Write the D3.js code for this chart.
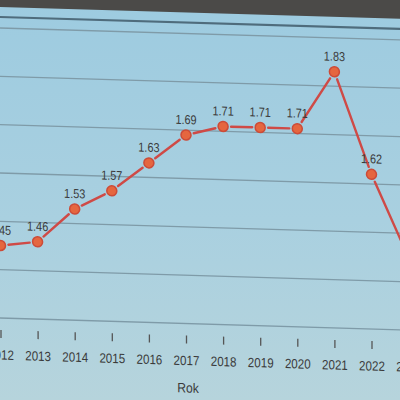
<!DOCTYPE html>
<html><head><meta charset="utf-8">
<script src="https://cdn.jsdelivr.net/npm/d3@7"></script>
<style>html,body{margin:0;padding:0;background:#a9d0e0;}svg{display:block;}</style>
</head><body>
<svg id="c" width="400" height="400"></svg>
<script>
const years = [2012,2013,2014,2015,2016,2017,2018,2019,2020,2021,2022,2023];
const values = [1.45,1.46,1.53,1.57,1.63,1.69,1.71,1.71,1.71,1.83,1.62,1.45];
const valueLabels = ["1.45","1.46","1.53","1.57","1.63","1.69","1.71","1.71","1.71","1.83","1.62","1.45"];
const gridValues = [1.3,1.4,1.5,1.6,1.7,1.8,1.9];
const xTitle = "Rok";

const FONT = "'Liberation Sans', Arial, sans-serif";
const svg = d3.select("#c");
const defs = svg.append("defs");
const grad = defs.append("linearGradient").attr("id","bg").attr("x1",0).attr("y1",0).attr("x2",0).attr("y2",1);
grad.append("stop").attr("offset","0%").attr("stop-color","#9dcbe0");
grad.append("stop").attr("offset","55%").attr("stop-color","#a9d0e0");
grad.append("stop").attr("offset","100%").attr("stop-color","#b6d4dc");
svg.append("rect").attr("width",400).attr("height",400).attr("fill","url(#bg)");

const g = svg.append("g").attr("transform","skewY(1.7)");

const x = d3.scaleLinear().domain([2012,2022]).range([0.5,371.5]);
const y = d3.scaleLinear().domain([1.3,1.9]).range([318,28]);

// screen bezel strip
g.append("rect").attr("x",-20).attr("y",-60).attr("width",460).attr("height",67).attr("fill","#4b4a48");
// top frame line
g.append("line").attr("x1",-20).attr("x2",440).attr("y1",17).attr("y2",17)
  .attr("stroke","#4f6c7c").attr("stroke-width",2.2);

// gridlines
g.append("g").selectAll("line").data(gridValues).join("line")
  .attr("x1",-20).attr("x2",440).attr("y1",d=>y(d)).attr("y2",d=>y(d))
  .attr("stroke","#7f9ba8").attr("stroke-width",1.3);

// x axis (ticks only, offset below plot)
const axisY = 330;
const ax = g.append("g").attr("transform",`translate(0,${axisY})`)
  .call(d3.axisBottom(x).tickValues(years).tickFormat(d3.format("d")).tickSize(8).tickPadding(12));
ax.select(".domain").remove();
ax.selectAll(".tick line").attr("stroke","#555").attr("stroke-width",1.3);
ax.selectAll(".tick text").attr("fill","#3a3a3a").style("font-family",FONT).style("font-size","13.5px")
  .attr("transform","scale(0.86,1)");

g.append("text").attr("transform","translate(188,387) scale(0.9,1)").attr("text-anchor","middle")
  .attr("fill","#3a3a3a").style("font-family",FONT).style("font-size","13.5px").text(xTitle);

// line segments with gaps (type "b")
const pts = years.map((yr,i)=>({x:x(yr), y:y(values[i]), label:valueLabels[i]}));
const gap = 8;
const segs = [];
for (let i=0;i<pts.length-1;i++){
  const a=pts[i], b=pts[i+1];
  const dx=b.x-a.x, dy=b.y-a.y, L=Math.hypot(dx,dy);
  if (L>2*gap) segs.push({x1:a.x+dx/L*gap, y1:a.y+dy/L*gap, x2:b.x-dx/L*gap, y2:b.y-dy/L*gap});
}
g.append("g").selectAll("line").data(segs).join("line")
  .attr("x1",d=>d.x1).attr("y1",d=>d.y1).attr("x2",d=>d.x2).attr("y2",d=>d.y2)
  .attr("stroke","#cf4a46").attr("stroke-width",2.4).attr("stroke-linecap","round");

g.append("g").selectAll("circle").data(pts).join("circle")
  .attr("cx",d=>d.x).attr("cy",d=>d.y).attr("r",5)
  .attr("fill","#e5663f").attr("stroke","#cc4b38").attr("stroke-width",1.5);

g.append("g").selectAll("text").data(pts.slice(0,11)).join("text")
  .attr("transform",d=>`translate(${d.x},${d.y-11}) scale(0.84,1)`).attr("text-anchor","middle")
  .attr("fill","#3a3a3a").style("font-family",FONT).style("font-size","13px")
  .text(d=>d.label);
</script>
</body></html>
